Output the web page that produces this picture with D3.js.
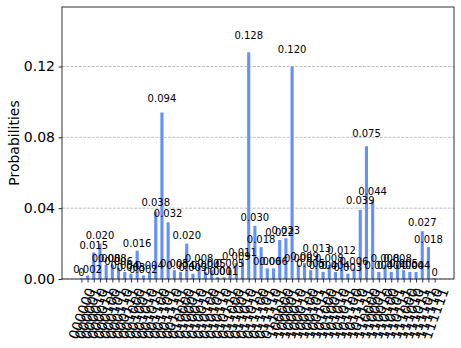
<!DOCTYPE html>
<html>
<head>
<meta charset="utf-8">
<script src="https://cdn.jsdelivr.net/npm/d3@7"></script>
<style>
  body { margin: 0; background: #fff; }
  svg { display: block; }
  text { font-family: "DejaVu Sans", sans-serif; fill: #000; }
</style>
</head>
<body>
<div id="chart"></div>
<script>
// measured states (6 qubits, 58 of 64 outcomes seen)
const states = [
  "000000", "000001", "000010", "000011", "000100", "000101", "000110", "000111",
  "001000", "001001", "001010", "001011", "001100", "001101", "001110", "001111",
  "010000", "010001", "010010", "010011", "010100", "010101", "010110", "010111",
  "011000", "011001", "011010", "011011", "011100", "011101", "011110", "011111",
  "100000", "100001", "100010", "100011", "100100", "100101", "100111", "101000",
  "101001", "101010", "101011", "101100", "101110", "101111", "110000", "110001",
  "110010", "110100", "110101", "110111", "111000", "111010", "111011", "111101",
  "111110", "111111"
];

const probs = [
  0.0004, 0.002, 0.015, 0.020, 0.008, 0.008, 0.006, 0.004,
  0.003, 0.016, 0.002, 0.004, 0.038, 0.094, 0.032, 0.005,
  0.004, 0.020, 0.003, 0.008, 0.004, 0.005, 0.001, 0.001,
  0.005, 0.009, 0.011, 0.128, 0.030, 0.018, 0.006, 0.006,
  0.022, 0.023, 0.120, 0.008, 0.009, 0.005, 0.013, 0.004,
  0.008, 0.004, 0.012, 0.003, 0.006, 0.039, 0.075, 0.044,
  0.004, 0.008, 0.004, 0.008, 0.005, 0.004, 0.004, 0.027,
  0.018, 0.0004
];

const yTicks = [0, 0.04, 0.08, 0.12];

const W = 461, H = 348;
const margin = { top: 7, right: 7, bottom: 69, left: 62 };
const barColor = "#648fff";

const svg = d3.select("#chart").append("svg")
  .attr("width", W)
  .attr("height", H);

// matplotlib style: bar width 0.5, 5% margins around the bars
const n = states.length;
const pad = 0.05 * (n - 1 + 0.5);
const x = d3.scaleLinear()
  .domain([-0.25 - pad, n - 1 + 0.25 + pad])
  .range([margin.left, W - margin.right]);

const y = d3.scaleLinear()
  .domain([0, 1.2 * d3.max(probs)])
  .range([H - margin.bottom, margin.top]);

// grid
svg.append("g")
  .selectAll("line")
  .data(yTicks)
  .join("line")
  .attr("x1", margin.left)
  .attr("x2", W - margin.right)
  .attr("y1", d => y(d))
  .attr("y2", d => y(d))
  .attr("stroke", "#b0b0b0")
  .attr("stroke-width", 0.8)
  .attr("stroke-dasharray", "2.96,1.28");

// bars
svg.append("g")
  .selectAll("rect")
  .data(probs)
  .join("rect")
  .attr("x", (d, i) => x(i - 0.25))
  .attr("width", x(0.25) - x(-0.25))
  .attr("y", d => y(d))
  .attr("height", d => y(0) - y(d))
  .attr("fill", barColor);

// value labels above bars
const fmt = d3.format(".3f");
svg.append("g")
  .selectAll("text")
  .data(probs)
  .join("text")
  .attr("x", (d, i) => x(i))
  .attr("y", d => y(1.05 * d) - 2.4)
  .attr("text-anchor", "middle")
  .style("font-size", "10px")
  .text(d => d >= 0.001 ? fmt(d) : "0");

// axes
const yAxis = d3.axisLeft(y)
  .tickValues(yTicks)
  .tickFormat(d3.format(".2f"))
  .tickSize(3.5)
  .tickPadding(3.5);

const gy = svg.append("g")
  .attr("transform", `translate(${margin.left},0)`)
  .call(yAxis);
gy.select(".domain").remove();
gy.selectAll("line").attr("stroke-width", 0.8);
gy.selectAll("text").style("font-size", "14px").attr("font-family", null);

const xAxis = d3.axisBottom(x)
  .tickValues(d3.range(n))
  .tickFormat(i => states[i])
  .tickSize(3.5)
  .tickPadding(0);

const gx = svg.append("g")
  .attr("transform", `translate(0,${H - margin.bottom})`)
  .call(xAxis);
gx.select(".domain").remove();
gx.selectAll("line").attr("stroke-width", 0.8);

// rotated tick labels, bbox centred on the tick (rotation 70)
const ang = 70 * Math.PI / 180;
const th = 14;
gx.selectAll("text")
  .attr("font-family", null)
  .style("font-size", "14px")
  .attr("text-anchor", "middle")
  .attr("dy", null)
  .attr("dominant-baseline", "central")
  .each(function () {
    const t = d3.select(this);
    const L = this.getComputedTextLength();
    const halfH = (L * Math.sin(ang) + th * Math.cos(ang)) / 2;
    t.attr("y", null)
      .attr("transform", `translate(0,${7 + halfH}) rotate(-70)`);
  });

// frame
svg.append("rect")
  .attr("x", margin.left)
  .attr("y", margin.top)
  .attr("width", W - margin.left - margin.right)
  .attr("height", H - margin.top - margin.bottom)
  .attr("fill", "none")
  .attr("stroke", "#000")
  .attr("stroke-width", 0.8);

// y label
svg.append("text")
  .attr("transform", `translate(14,${(margin.top + H - margin.bottom) / 2}) rotate(-90)`)
  .attr("text-anchor", "middle")
  .attr("dominant-baseline", "central")
  .style("font-size", "14px")
  .text("Probabilities");
</script>
</body>
</html>
